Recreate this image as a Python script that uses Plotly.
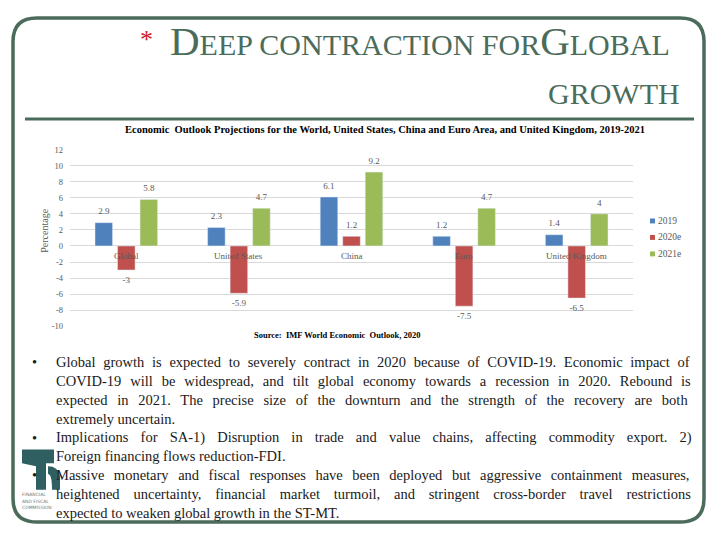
import plotly.graph_objects as go

# ---------------- data ----------------
categories = ["Global", "United States", "China", "Euro", "United Kingdom"]
series_names = ["2019", "2020e", "2021e"]
values_2019 = [2.9, 2.3, 6.1, 1.2, 1.4]
values_2020e = [-3, -5.9, 1.2, -7.5, -6.5]
values_2021e = [5.8, 4.7, 9.2, 4.7, 4]
y_ticks = [12, 10, 8, 6, 4, 2, 0, -2, -4, -6, -8, -10]

title_line1_big1 = "D"
title_line1_small1 = "EEP CONTRACTION FOR"
title_line1_big2 = "G"
title_line1_small2 = "LOBAL"
title_line2 = "GROWTH"
chart_title = "Economic  Outlook Projections for the World, United States, China and Euro Area, and United Kingdom, 2019-2021"
source_text = "Source:  IMF World Economic  Outlook, 2020"
y_title = "Percentage"
bullet_marks = ["•", "", "", "", "•", "", "•", "", ""]
bullet_lines = [
    "Global growth is expected to severely contract in 2020 because of COVID-19. Economic impact of",
    "COVID-19 will be widespread, and tilt global economy towards a recession in 2020. Rebound is",
    "expected in 2021. The precise size of the downturn and the strength of the recovery are both",
    "extremely uncertain.",
    "Implications for SA-1) Disruption in trade and value chains, affecting commodity export. 2)",
    "Foreign financing flows reduction-FDI.",
    "Massive monetary and fiscal responses have been deployed but aggressive containment measures,",
    "heightened uncertainty, financial market turmoil, and stringent cross-border travel restrictions",
    "expected to weaken global growth in the ST-MT.",
]
# extra word spacing (px) used to emulate the justified paragraph
line_word_spacing = [4.1, 5.3, 6.1, 0, 8.5, 0, 5.9, 10.2, 0]
logo_words = ["FINANCIAL", "AND FISCAL", "COMMISSION"]

colors = ["#4F81BD", "#C0504D", "#9BBB59"]
all_values = [values_2019, values_2020e, values_2021e]

# page body has an 8px margin: the figure sits at (8, 8) in the window
OFF = 8
W, H = 720 - 2 * OFF, 540 - 2 * OFF
def px(x):
    return (x - OFF) / W
def py(y):
    return 1 - (y - OFF) / H

SERIF = "Liberation Serif"
GREEN = "#4B6C5B"
GREY = "#595959"

fig = go.Figure()

for i, (name, vals) in enumerate(zip(series_names, all_values)):
    fig.add_trace(go.Bar(
        x=categories, y=vals, name=name, marker_color=colors[i],
        offsetgroup=str(i), showlegend=False, hoverinfo="skip",
    ))
for i, (name, vals) in enumerate(zip(series_names, all_values)):
    fig.add_trace(go.Scatter(
        x=categories, y=vals, mode="markers+text",
        text=[f"{v:g}" for v in vals],
        textposition=["top center" if v >= 0 else "bottom center" for v in vals],
        textfont=dict(family=SERIF, size=9, color=GREY),
        marker=dict(size=8, opacity=0),
        offsetgroup=str(i), showlegend=False, hoverinfo="skip",
    ))

annotations = []
shapes = []

# category labels at the zero line
for c in categories:
    annotations.append(dict(x=c, y=0, xref="x", yref="y", text=c, showarrow=False,
                            yshift=-10, font=dict(family=SERIF, size=9, color=GREY)))

# custom legend
for i, name in enumerate(series_names):
    ly = 220 + i * 16.8
    shapes.append(dict(type="rect", xref="paper", yref="paper",
                       x0=px(650), x1=px(655), y0=py(ly + 2.5), y1=py(ly - 2.5),
                       fillcolor=colors[i], line=dict(width=0)))
    annotations.append(dict(x=px(656), y=py(ly), xref="paper", yref="paper", xanchor="left",
                            yanchor="middle", showarrow=False, text=name,
                            font=dict(family=SERIF, size=9.5, color=GREY)))

# slide title
annotations.append(dict(
    x=px(672), y=py(37), xref="paper", yref="paper", xanchor="right", yanchor="middle",
    showarrow=False,
    text=(f"<span style='font-size:41px'>{title_line1_big1}</span>{title_line1_small1}"
          f"<span style='font-size:41px'>{title_line1_big2}</span>{title_line1_small2}"),
    font=dict(family=SERIF, size=30, color=GREEN)))
annotations.append(dict(
    x=px(146), y=py(35), xref="paper", yref="paper", xanchor="center", yanchor="middle",
    showarrow=False, text="*", font=dict(family=SERIF, size=26, color="#D0202A")))
annotations.append(dict(
    x=px(682), y=py(90), xref="paper", yref="paper", xanchor="right", yanchor="middle",
    showarrow=False, text=title_line2, font=dict(family=SERIF, size=30, color=GREEN)))

# chart title and source
annotations.append(dict(
    x=px(385), y=py(127), xref="paper", yref="paper", xanchor="center", yanchor="middle",
    showarrow=False, text=f"<b>{chart_title}</b>", font=dict(family=SERIF, size=10.5, color="#000000")))
annotations.append(dict(
    x=px(337), y=py(336), xref="paper", yref="paper", xanchor="center", yanchor="middle",
    showarrow=False, text=f"<b>{source_text}</b>", font=dict(family=SERIF, size=8.5, color="#000000")))
annotations.append(dict(
    x=px(45), y=py(230), xref="paper", yref="paper", xanchor="center", yanchor="middle",
    showarrow=False, text=y_title, textangle=-90, font=dict(family=SERIF, size=10, color=GREY)))

# bullet text
line_y0, line_dy = 364, 19.2
for k, (bullet, line, ws) in enumerate(zip(bullet_marks, bullet_lines, line_word_spacing)):
    yy = line_y0 + k * line_dy
    if bullet:
        annotations.append(dict(x=px(34), y=py(yy), xref="paper", yref="paper", xanchor="center",
                                yanchor="middle", showarrow=False, text=bullet,
                                font=dict(family=SERIF, size=14.5, color="#1A1A1A")))
    txt = f"<span style='word-spacing:{ws}px'>{line}</span>" if ws else line
    annotations.append(dict(x=px(54), y=py(yy), xref="paper", yref="paper", xanchor="left",
                            yanchor="middle", showarrow=False, text=txt,
                            font=dict(family=SERIF, size=14.5, color="#1A1A1A")))

# rounded frame
x0, y0, x1, y1, r = 13, 13, 704, 527, 24
path = (f"M{px(x0+r)},{py(y0)} L{px(x1-r)},{py(y0)} Q{px(x1)},{py(y0)} {px(x1)},{py(y0+r)} "
        f"L{px(x1)},{py(y1-r)} Q{px(x1)},{py(y1)} {px(x1-r)},{py(y1)} "
        f"L{px(x0+r)},{py(y1)} Q{px(x0)},{py(y1)} {px(x0)},{py(y1-r)} "
        f"L{px(x0)},{py(y0+r)} Q{px(x0)},{py(y0)} {px(x0+r)},{py(y0)} Z")
shapes.append(dict(type="path", xref="paper", yref="paper", path=path,
                   line=dict(color=GREEN, width=3.5)))
# title underline
shapes.append(dict(type="line", xref="paper", yref="paper", x0=px(25), x1=px(694), y0=py(116), y1=py(116),
                   line=dict(color=GREEN, width=3)))
# logo shapes
LOGO = "#2F5F61"
logo_path = (f"M{px(22)},{py(453)} L{px(54)},{py(453)} L{px(54)},{py(467)} L{px(46)},{py(467)} "
             f"L{px(46)},{py(494)} L{px(36)},{py(494)} L{px(36)},{py(470)} L{px(22)},{py(467)} Z")
shapes.append(dict(type="path", xref="paper", yref="paper", path=logo_path,
                   fillcolor=LOGO, line=dict(width=0)))
logo_path2 = (f"M{px(48)},{py(470)} Q{px(58)},{py(470)} {px(60)},{py(480)} L{px(60)},{py(494)} "
              f"L{px(52)},{py(494)} Q{px(52)},{py(478)} {px(48)},{py(478)} Z")
shapes.append(dict(type="path", xref="paper", yref="paper", path=logo_path2,
                   fillcolor=LOGO, line=dict(width=0)))

# logo words
for k, wtxt in enumerate(logo_words):
    annotations.append(dict(x=px(20), y=py(499 + k * 6.5), xref="paper", yref="paper", xanchor="left",
                            yanchor="middle", showarrow=False, text=wtxt,
                            font=dict(family="DejaVu Sans", size=4.5, color="#6A7A7A")))

fig.update_layout(
    width=W, height=H,
    margin=dict(l=0, r=0, t=0, b=0),
    paper_bgcolor="white", plot_bgcolor="white",
    barmode="group", bargap=0.4, bargroupgap=0.22,
    scattermode="group", scattergap=0.4,
    xaxis=dict(domain=[px(70), px(633)], showticklabels=False, showgrid=False, zeroline=False,
               showline=False, ticks=""),
    yaxis=dict(domain=[py(327.3), py(147.3)], range=[-10, 12], tickvals=y_ticks,
               ticktext=[str(t) for t in y_ticks], showgrid=True, gridcolor="#D9D9D9", gridwidth=1,
               zeroline=True, zerolinecolor="#D9D9D9", zerolinewidth=1, showline=False, ticks="",
               tickfont=dict(family=SERIF, size=8.5, color=GREY), ticklabelstandoff=6),
    annotations=annotations,
    shapes=shapes,
    showlegend=False,
)

fig.write_html("out.html")
